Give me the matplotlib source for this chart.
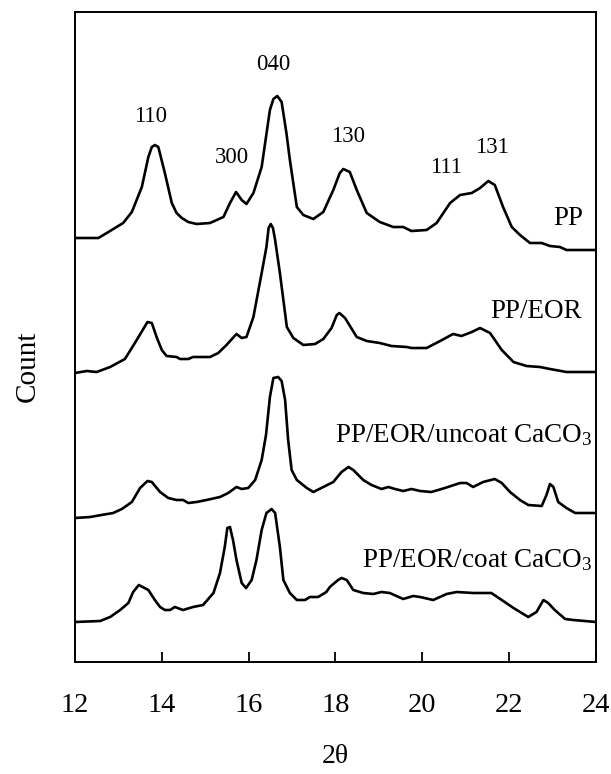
import matplotlib
matplotlib.use("Agg")
import matplotlib.pyplot as plt

plt.rcParams['font.family'] = ['Liberation Serif', 'DejaVu Serif']
plt.rcParams['mathtext.fontset'] = 'custom'
plt.rcParams['mathtext.rm'] = 'Liberation Serif'
plt.rcParams['mathtext.it'] = 'Liberation Serif:italic'

# XRD patterns (2-theta in degrees, intensity in arbitrary counts above each baseline)
pp_2theta = [12.0, 12.54, 12.77, 13.11, 13.31, 13.54, 13.69, 13.77, 13.84, 13.92,
             14.07, 14.23, 14.34, 14.46, 14.61, 14.80, 15.11, 15.42, 15.57, 15.71,
             15.84, 15.95, 16.11, 16.30, 16.38, 16.49, 16.57, 16.66, 16.76, 16.87,
             16.95, 17.11, 17.26, 17.49, 17.72, 17.95, 18.10, 18.18, 18.33, 18.49,
             18.72, 19.02, 19.33, 19.56, 19.75, 20.10, 20.33, 20.64, 20.87, 21.14,
             21.33, 21.52, 21.67, 21.86, 22.06, 22.25, 22.48, 22.75, 22.94, 23.17,
             23.32, 24.0]
pp_counts = [12, 12, 18, 27, 38, 63, 93, 103, 105, 103,
             77, 47, 37, 32, 28, 26, 27, 33, 47, 58,
             50, 46, 57, 83, 107, 140, 151, 154, 148, 117,
             90, 43, 35, 31, 38, 60, 77, 81, 78, 60,
             37, 28, 23, 23, 19, 20, 27, 47, 55, 57,
             62, 69, 65, 43, 23, 15, 7, 7, 4, 3,
             0, 0]

eor_2theta = [12.0, 12.27, 12.50, 12.81, 13.15, 13.38, 13.67, 13.77, 13.88, 14.0,
              14.11, 14.34, 14.42, 14.61, 14.72, 15.11, 15.30, 15.49, 15.72, 15.84,
              15.95, 16.11, 16.30, 16.41, 16.46, 16.51, 16.56, 16.61, 16.72, 16.88,
              17.03, 17.26, 17.53, 17.72, 17.91, 18.03, 18.09, 18.22, 18.49, 18.72,
              19.02, 19.29, 19.64, 19.75, 20.10, 20.41, 20.71, 20.90, 21.14, 21.33,
              21.56, 21.83, 22.10, 22.40, 22.71, 22.94, 23.32, 24.0]
eor_counts = [0, 2, 1, 6, 14, 30, 51, 50, 36, 23,
              17, 16, 14, 14, 16, 16, 20, 28, 39, 35,
              36, 56, 100, 126, 145, 149, 145, 133, 100, 46,
              35, 28, 29, 34, 45, 58, 60, 55, 36, 32,
              30, 27, 26, 25, 25, 32, 39, 37, 41, 45,
              40, 23, 11, 7, 6, 4, 1, 1]

uncoat_2theta = [12.0, 12.35, 12.61, 12.88, 13.08, 13.31, 13.50, 13.67, 13.77, 13.96,
                 14.15, 14.34, 14.49, 14.61, 14.80, 15.03, 15.34, 15.53, 15.72, 15.84,
                 15.99, 16.15, 16.30, 16.40, 16.49, 16.57, 16.68, 16.76, 16.84, 16.91,
                 16.99, 17.11, 17.34, 17.49, 17.72, 17.95, 18.14, 18.30, 18.41, 18.64,
                 18.83, 19.06, 19.22, 19.37, 19.56, 19.75, 19.95, 20.21, 20.52, 20.87,
                 21.02, 21.17, 21.40, 21.67, 21.83, 22.02, 22.25, 22.44, 22.75, 22.86,
                 22.94, 23.02, 23.13, 23.32, 23.52, 24.0]
uncoat_counts = [0, 1, 3, 5, 9, 16, 30, 37, 36, 26,
                 20, 18, 18, 15, 16, 18, 21, 25, 31, 29,
                 30, 38, 58, 83, 121, 140, 141, 137, 118, 78,
                 48, 38, 30, 26, 31, 36, 46, 51, 48, 38,
                 33, 29, 31, 29, 27, 29, 27, 26, 30, 35,
                 35, 31, 36, 39, 35, 26, 18, 13, 12, 23,
                 34, 31, 16, 10, 5, 5]

coat_2theta = [12.0, 12.58, 12.81, 13.04, 13.23, 13.34, 13.47, 13.69, 13.84, 13.96,
               14.07, 14.19, 14.30, 14.49, 14.72, 14.95, 15.19, 15.34, 15.45, 15.51,
               15.57, 15.64, 15.72, 15.84, 15.94, 16.07, 16.18, 16.30, 16.41, 16.53,
               16.61, 16.72, 16.80, 16.95, 17.11, 17.30, 17.41, 17.60, 17.79, 17.87,
               18.06, 18.14, 18.26, 18.41, 18.64, 18.87, 19.06, 19.25, 19.56, 19.79,
               19.95, 20.25, 20.56, 20.79, 21.17, 21.59, 21.83, 22.10, 22.44, 22.63,
               22.79, 22.90, 23.05, 23.29, 23.48, 24.0]
coat_counts = [0, 1, 5, 12, 19, 30, 37, 32, 22, 15,
               12, 12, 15, 12, 15, 17, 29, 49, 75, 94,
               95, 82, 62, 39, 34, 42, 62, 92, 109, 113,
               109, 75, 42, 29, 22, 22, 25, 25, 30, 35,
               42, 44, 42, 32, 29, 28, 30, 29, 23, 26,
               25, 22, 28, 30, 29, 29, 22, 14, 5, 10,
               22, 19, 12, 3, 2, 0]

sample_names = ['PP', 'PP/EOR', 'PP/EOR/uncoat CaCO$_3$', 'PP/EOR/coat CaCO$_3$']
offsets = [412, 289, 144, 40]

# reflection labels for the PP pattern
peak_labels = ['110', '300', '040', '130', '111', '131']
peak_2theta = [13.73, 15.61, 16.57, 18.28, 20.54, 21.60]
peak_text_y = [540, 499, 592, 520, 489, 509]

# where the sample names sit (right-aligned)
name_2theta = [23.71, 23.67, 23.91, 23.91]
name_y = [437, 344, 220, 95]

fig = plt.figure(figsize=(6.11, 7.74), dpi=100)
ax = fig.add_axes([0.1227, 0.1447, 0.8527, 0.8398])

patterns = [(pp_2theta, pp_counts), (eor_2theta, eor_counts),
            (uncoat_2theta, uncoat_counts), (coat_2theta, coat_counts)]
for (tt, counts), off in zip(patterns, offsets):
    ax.plot(tt, [c + off for c in counts], color='black', lw=1.9,
            solid_joinstyle='round')

for lab, x, y in zip(peak_labels, peak_2theta, peak_text_y):
    ax.text(x, y, lab, ha='center', va='baseline', fontsize=16.5)

for name, x, y in zip(sample_names, name_2theta, name_y):
    ax.text(x, y, name, ha='right', va='baseline', fontsize=19.5)

ax.set_xlim(12, 24)
ax.set_ylim(0, 650)
ax.set_xticks([12, 14, 16, 18, 20, 22, 24])
ax.set_yticks([])
ax.tick_params(axis='x', direction='in', length=7, width=1.3, pad=22,
               labelsize=20.5)
for sp in ax.spines.values():
    sp.set_linewidth(1.4)

ax.set_xlabel('2θ', fontsize=20)
ax.xaxis.set_label_coords(0.5, -0.126)
ax.set_ylabel('Count', fontsize=21)
ax.yaxis.set_label_coords(-0.065, 0.455)

fig.savefig('out.png', dpi=100)
